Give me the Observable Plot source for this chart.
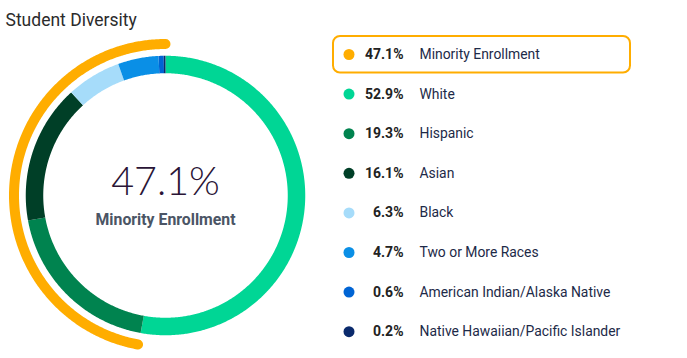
<!DOCTYPE html>
<html>
<head>
<meta charset="utf-8">
<script src="https://cdn.jsdelivr.net/npm/d3@7"></script>
<script src="https://cdn.jsdelivr.net/npm/@observablehq/plot@0.6"></script>
<style>
  html, body { margin: 0; padding: 0; background: #fff; }
  #chart svg { display: block; }
</style>
</head>
<body>
<div id="chart"></div>
<script>
// ---- data ----
const title = "Student Diversity";
const centerValue = "47.1%";
const centerLabel = "Minority Enrollment";
const minorityShare = 47.1;
const minorityColor = "#ffad00";

const groups = ["White", "Hispanic", "Asian", "Black", "Two or More Races", "American Indian/Alaska Native", "Native Hawaiian/Pacific Islander"];
const shares = [52.9, 19.3, 16.1, 6.3, 4.7, 0.6, 0.2];
const groupColors = ["#00d695", "#00834f", "#003f27", "#a6dcfa", "#0a8fe6", "#0064d4", "#0a2a6c"];

const legendLabels = ["Minority Enrollment", ...groups];
const legendValues = [minorityShare, ...shares];
const legendColors = [minorityColor, ...groupColors];

// ---- layout ----
const W = 687, H = 358;
const cx = 165, cy = 195;
const rRing = 131, ringWidth = 17.5;
const rOuter = 151.5, outerWidth = 10;
const total = d3.sum(shares);

function arcPoints(key, fromPct, toPct, r, base) {
  const a0 = fromPct / 100 * 2 * Math.PI, a1 = toPct / 100 * 2 * Math.PI;
  const n = Math.max(2, Math.ceil(Math.abs(a1 - a0) / (Math.PI / 360)) + 1);
  return d3.range(n).map(i => {
    const a = a0 + (a1 - a0) * i / (n - 1);
    return {key, x: cx + r * Math.sin(a), y: cy - r * Math.cos(a), ...base};
  });
}

let acc = 0;
const ringPts = [];
groups.forEach((g, i) => {
  const v = shares[i] / total * 100;
  ringPts.push(...arcPoints(g, acc, acc + v, rRing, {color: groupColors[i]}));
  acc += v;
});
const orangePts = arcPoints("minority", 0, -minorityShare, rOuter, {color: minorityColor});

const rowY0 = 54, rowStep = 39.6;
const legend = legendLabels.map((l, i) => ({
  label: l, value: legendValues[i].toFixed(1) + "%", color: legendColors[i], y: rowY0 + i * rowStep
}));

const chart = Plot.plot({
  width: W, height: H,
  margin: 0,
  x: {domain: [0, W], range: [0, W], axis: null},
  y: {domain: [0, H], range: [0, H], axis: null},
  style: {fontFamily: "Roboto, sans-serif", background: "#fff"},
  marks: [
    Plot.text([title], {x: 5, y: 20, text: d => d, textAnchor: "start", fontSize: 17.5, fill: "#2b2b2b", fontFamily: "Roboto"}),
    Plot.line(ringPts, {x: "x", y: "y", z: "key", stroke: "color", strokeWidth: ringWidth, strokeLinecap: "butt", strokeLinejoin: "round"}),
    Plot.line(orangePts, {x: "x", y: "y", z: "key", stroke: "color", strokeWidth: outerWidth, strokeLinecap: "round"}),
    Plot.text([centerValue], {x: cx, y: 182, text: d => d, fontSize: 39.5, fontWeight: 300, fill: "#2a1436", fontFamily: "Lato, 'Open Sans', sans-serif"}),
    Plot.text([centerLabel], {x: cx, y: 219, text: d => d, fontSize: 15.8, fontWeight: 700, fill: "#4b5565", fontFamily: "Roboto"}),
    // legend highlight box
    Plot.rect([legend[0]], {x1: 333, x2: 630, y1: d => d.y - 18, y2: d => d.y + 18.5, rx: 7, fill: "none", stroke: minorityColor, strokeWidth: 2}),
    Plot.dot(legend, {x: 348.5, y: "y", r: 5.5, fill: "color", stroke: null}),
    Plot.text(legend, {x: 403, y: "y", text: "value", textAnchor: "end", fontSize: 14, fontWeight: 700, fill: "#222", fontFamily: "Roboto"}),
    Plot.text(legend, {x: 419, y: "y", text: "label", textAnchor: "start", fontSize: 13.9, fill: "#1d2a48", fontFamily: "Roboto"})
  ]
});
document.getElementById("chart").append(chart);
</script>
</body>
</html>
